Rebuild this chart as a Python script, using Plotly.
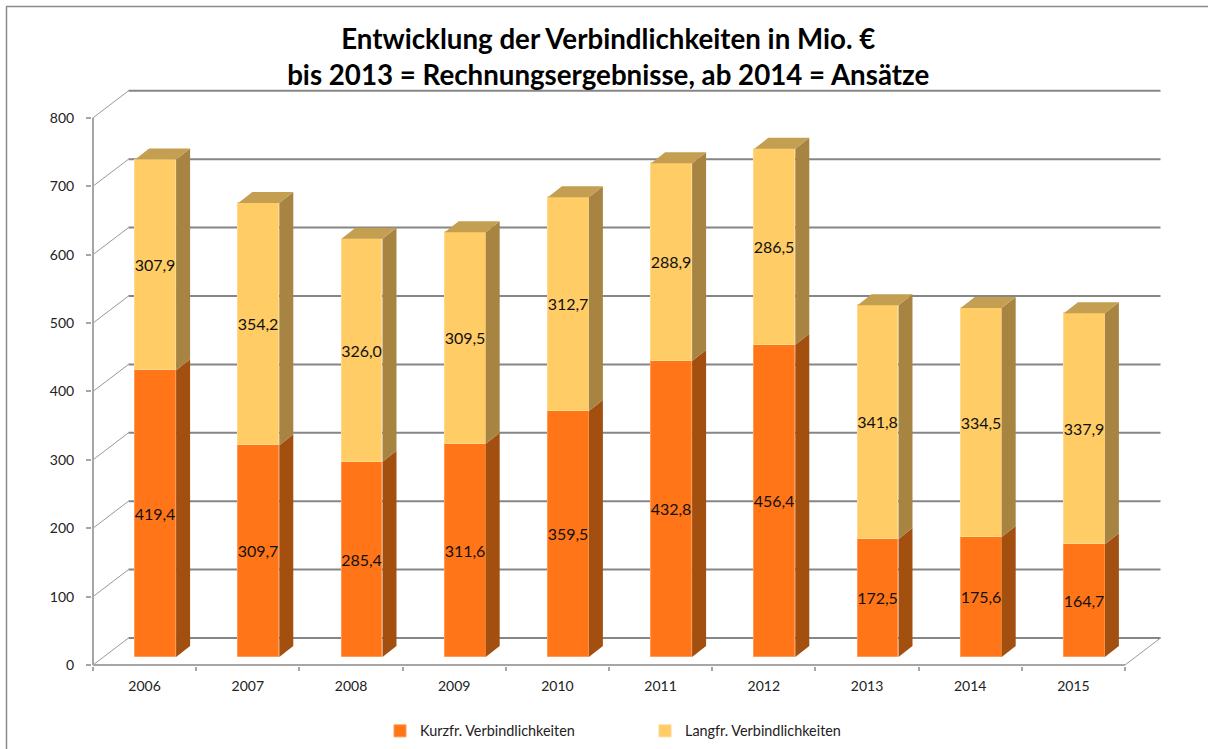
import plotly.graph_objects as go

years = ["2006", "2007", "2008", "2009", "2010", "2011", "2012", "2013", "2014", "2015"]
kurzfr = [419.4, 309.7, 285.4, 311.6, 359.5, 432.8, 456.4, 172.5, 175.6, 164.7]
langfr = [307.9, 354.2, 326.0, 309.5, 312.7, 288.9, 286.5, 341.8, 334.5, 337.9]
y_ticks = [0, 100, 200, 300, 400, 500, 600, 700, 800]

W, H = 1208, 749
ML, MR, MT, MB = 92, 40, 85, 83
PX_X = 103.2   # px per category
PX_Y = 0.684   # px per value unit
FONT = "Lato"

def dx(px): return px / PX_X
def dy(px): return px / PX_Y

# pseudo-3D offsets
FRONT_X, FRONT_Y = dx(11), dy(8)
DEPTH_X, DEPTH_Y = dx(14), dy(11)
WALL_X, WALL_Y = dx(35.5), dy(27)
BAR_W = 0.397

centers = [i + 0.5 for i in range(len(years))]
bar_x = [c + FRONT_X for c in centers]
fmt = lambda v: f"{v:.1f}".replace(".", ",")

fig = go.Figure()
fig.add_bar(x=bar_x, y=kurzfr, base=[FRONT_Y] * len(years), width=BAR_W,
            name="Kurzfr. Verbindlichkeiten",
            marker=dict(color="#FF7518", line=dict(color="#FF9A50", width=1)),
            text=[fmt(v) for v in kurzfr], textposition="inside", insidetextanchor="middle",
            textangle=0, constraintext="none", insidetextfont=dict(color="#111", size=16, family=FONT))
fig.add_bar(x=bar_x, y=langfr, base=[FRONT_Y + k for k in kurzfr], width=BAR_W,
            name="Langfr. Verbindlichkeiten",
            marker=dict(color="#FFCC66", line=dict(color="#FFD98C", width=1)),
            text=[fmt(v) for v in langfr], textposition="inside", insidetextanchor="middle",
            textangle=0, constraintext="none", insidetextfont=dict(color="#111", size=16, family=FONT))

def side_trace(bases, vals, color):
    xs, ys = [], []
    for x, b, v in zip(bar_x, bases, vals):
        r = x + BAR_W / 2
        xs += [r, r + DEPTH_X, r + DEPTH_X, r, r, None]
        ys += [b, b + DEPTH_Y, b + v + DEPTH_Y, b + v, b, None]
    fig.add_scatter(x=xs, y=ys, mode="lines", fill="toself", fillcolor=color,
                    line=dict(width=0, color=color), showlegend=False, hoverinfo="skip")

side_trace([FRONT_Y] * len(years), kurzfr, "#A34F10")
side_trace([FRONT_Y + k for k in kurzfr], langfr, "#A88442")

tx, ty = [], []
for x, k, l in zip(bar_x, kurzfr, langfr):
    a, b = x - BAR_W / 2, x + BAR_W / 2
    t = FRONT_Y + k + l
    tx += [a, a + DEPTH_X, b + DEPTH_X, b, a, None]
    ty += [t, t + DEPTH_Y, t + DEPTH_Y, t, t, None]
fig.add_scatter(x=tx, y=ty, mode="lines", fill="toself", fillcolor="#C49F52",
                line=dict(width=0, color="#C49F52"), showlegend=False, hoverinfo="skip")

shapes = []
GRID = "#868686"
n = len(years)
for v in y_ticks:
    shapes.append(dict(type="line", layer="below", x0=0, y0=v, x1=WALL_X, y1=v + WALL_Y,
                       line=dict(color="#999999", width=1)))
    shapes.append(dict(type="line", layer="below", x0=WALL_X, y0=v + WALL_Y, x1=n + WALL_X, y1=v + WALL_Y,
                       line=dict(color=GRID, width=2)))
shapes.append(dict(type="line", layer="below", x0=n, y0=0, x1=n + WALL_X, y1=WALL_Y,
                   line=dict(color="#999999", width=1)))
shapes.append(dict(type="line", layer="below", x0=0, y0=0, x1=0, y1=y_ticks[-1],
                   line=dict(color="#A6A6A6", width=2)))
shapes.append(dict(type="line", layer="below", x0=0, y0=0, x1=n, y1=0,
                   line=dict(color="#A6A6A6", width=2)))

pw, ph = W - ML - MR, H - MT - MB
def px_x(p): return (p - ML) / pw
def px_y(p): return 1 - (p - MT) / ph
shapes.append(dict(type="line", xref="paper", yref="paper", x0=px_x(6.5), y0=px_y(6.5), x1=px_x(6.5), y1=px_y(749),
                   line=dict(color="#8C8C8C", width=1.5)))
shapes.append(dict(type="line", xref="paper", yref="paper", x0=px_x(6), y0=px_y(6.5), x1=px_x(1208), y1=px_y(6.5),
                   line=dict(color="#8C8C8C", width=1.5)))

fig.update_layout(
    width=W, height=H, margin=dict(l=ML, r=MR, t=MT, b=MB, autoexpand=False),
    paper_bgcolor="white", plot_bgcolor="rgba(0,0,0,0)",
    barmode="overlay", bargap=0, shapes=shapes,
    font=dict(family=FONT, color="#222"),
    title=dict(text="Entwicklung der Verbindlichkeiten in Mio. €<br>bis 2013 = Rechnungsergebnisse, ab 2014 = Ansätze",
               x=0.5035, xanchor="center", y=0.935, yanchor="top",
               font=dict(size=27.7, family=FONT, color="black", weight="bold")),
    xaxis=dict(range=[-1 / PX_X, (W - MR - 93) / PX_X], showgrid=False, zeroline=False, showline=False,
               tickmode="array", tickvals=centers, ticktext=years, ticks="",
               tickfont=dict(size=14, color="#222", family=FONT), ticklabelstandoff=10,
               minor=dict(tickmode="array", tickvals=list(range(n + 1)), ticks="outside", ticklen=4,
                          tickwidth=2, tickcolor="#A6A6A6", showgrid=False)),
    yaxis=dict(range=[-1 / PX_Y, (665 - MT) / PX_Y], showgrid=False, zeroline=False, showline=False,
               tickmode="array", tickvals=y_ticks, ticktext=[str(v) for v in y_ticks], ticks="outside",
               ticklen=5, tickwidth=2, tickcolor="#A6A6A6",
               tickfont=dict(size=14, color="#222", family=FONT), ticklabelstandoff=9),
    legend=dict(orientation="h", x=px_x(380), xanchor="left", y=px_y(731), yanchor="middle",
                entrywidth=220, entrywidthmode="pixels", font=dict(size=14.4, color="#222", family=FONT),
                bgcolor="rgba(0,0,0,0)", traceorder="normal"),
)

fig.write_html("out.html", config=dict(displayModeBar=False),
               post_script="document.body.style.margin='0';document.body.style.overflow='hidden';")
